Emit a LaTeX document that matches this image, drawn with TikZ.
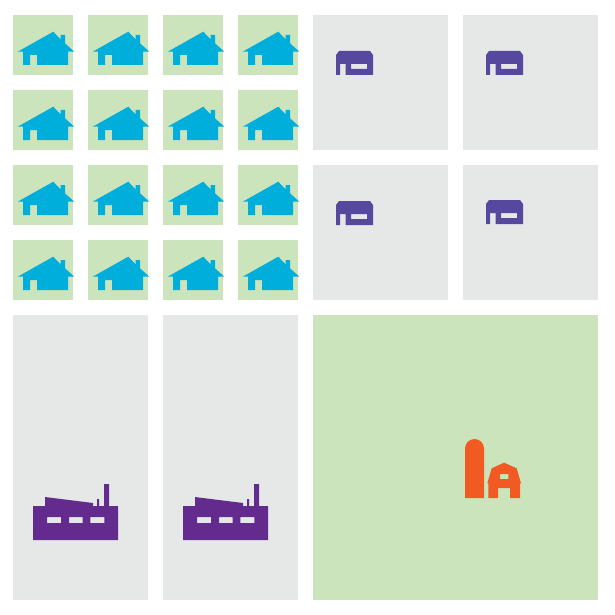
\documentclass[tikz,border=0pt]{standalone}

\definecolor{lotgreen}{HTML}{CCE4BC}
\definecolor{lotgray}{HTML}{E6E8E7}
\definecolor{houseblue}{HTML}{00AEDB}
\definecolor{shedpurple}{HTML}{56489F}
\definecolor{factorypurple}{HTML}{642B8F}
\definecolor{barnorange}{HTML}{F15A22}

\newcommand*{\lotsmall}{60}
\newcommand*{\lotmid}{135}
\newcommand*{\lotbig}{285}

\begin{document}
\begin{tikzpicture}
[
	x=1pt,y=-1pt,
	greenlot/.style={fill=lotgreen},
	graylot/.style={fill=lotgray},
	house/.style={fill=houseblue},
	shed/.style={fill=shedpurple,even odd rule},
	factory/.style={fill=factorypurple,even odd rule},
	barn/.style={fill=barnorange,even odd rule}
]

	\useasboundingbox (0,0) rectangle (615,615);

	% houses
	\foreach \x in {13,88,163,238} {
		\foreach \y in {15,90,165,240} {
			\begin{scope}[shift={(\x,\y)}]
				\fill[greenlot] (0,0) rectangle (\lotsmall,\lotsmall);
				\fill[house] (40.3,16.7) -- (47.7,24.5) -- (47.7,20) -- (52,20) -- (52,28.3) -- (61.3,36.7)
					-- (55,36.7) -- (55,50) -- (24,50) -- (24,40) -- (17,40) -- (17,50) -- (10,50)
					-- (10,36.7) -- (4.7,36.7) -- cycle;
			\end{scope}
		}
	}

	% sheds
	\foreach \x/\y/\sx/\sy in {313/15/336/51, 463/15/486/51, 313/165/336/201, 463/165/486/200} {
		\fill[graylot] (\x,\y) rectangle ++(\lotmid,\lotmid);
		\begin{scope}[shift={(\sx,\sy)}]
			\fill[shed] (3,0) -- (34,0) -- (37,4) -- (37,24) -- (9.7,24) -- (9.7,13) -- (4,13) -- (4,24)
				-- (0,24) -- (0,4) -- cycle
				(15,13) rectangle (31,18);
		\end{scope}
	}

	% factories
	\foreach \x in {13,163} {
		\fill[graylot] (\x,315) rectangle ++(\lotmid,\lotbig);
		\begin{scope}[shift={(\x,315)}]
			\fill[factory] (20,191) -- (32,191) -- (32,182) -- (80,188) -- (80,191) -- (84,191) -- (84,184)
				-- (86,184) -- (86,191) -- (91,191) -- (91,169) -- (96,169) -- (96,191) -- (105,191)
				-- (105,225) -- (20,225) -- cycle
				(34,202) rectangle (48,208)
				(56,202) rectangle (69.5,208)
				(77.3,202) rectangle (91.3,208);
		\end{scope}
	}

	% farm
	\fill[greenlot] (313,315) rectangle ++(\lotbig,\lotbig);

	% silo
	\fill[barnorange] (465,498) -- (465,448.5) arc[start angle=180,end angle=360,radius=9.5] -- (484,498) -- cycle;

	% barn
	\fill[barn] (504,462.7) -- (516.7,468.3) -- (521,483.3) -- (520,483.3) -- (520,498) -- (510,498) -- (510,488)
		-- (498,488) -- (498,498) -- (488.3,498) -- (488.3,483.3) -- (487.3,483.3) -- (491.7,468.3) -- cycle
		(500,474) rectangle (508.3,479);

\end{tikzpicture}
\end{document}
